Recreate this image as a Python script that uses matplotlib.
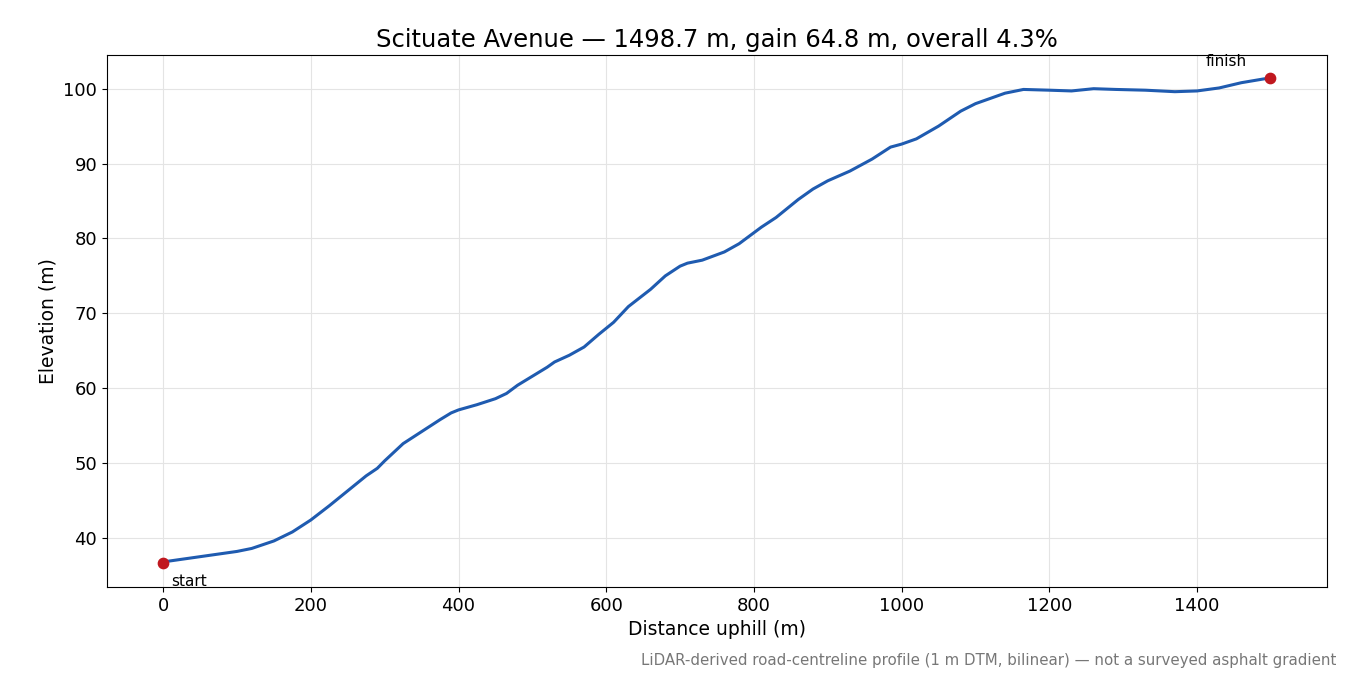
import matplotlib
matplotlib.use("Agg")
import matplotlib.pyplot as plt

dist = [0, 50, 100, 120, 150, 175, 200, 225, 250, 275, 290, 300, 325, 350, 375, 390, 400, 425, 450, 465,
        480, 500, 520, 530, 550, 570, 590, 610, 630, 660, 680, 700, 710, 730, 760, 780, 810, 830, 860, 880,
        900, 930, 960, 985, 1000, 1020, 1050, 1080, 1100, 1140, 1165, 1200, 1230, 1260, 1290, 1330, 1370,
        1400, 1430, 1460, 1490, 1498.7]
elev = [36.8, 37.5, 38.2, 38.6, 39.6, 40.8, 42.4, 44.3, 46.3, 48.3, 49.3, 50.3, 52.6, 54.2, 55.8, 56.7, 57.1,
        57.8, 58.6, 59.3, 60.4, 61.6, 62.8, 63.5, 64.4, 65.5, 67.2, 68.8, 70.9, 73.2, 75.0, 76.3, 76.7, 77.1,
        78.2, 79.3, 81.5, 82.8, 85.2, 86.6, 87.7, 89.0, 90.6, 92.2, 92.6, 93.3, 95.0, 97.0, 98.0, 99.4, 99.9,
        99.8, 99.7, 100.0, 99.9, 99.8, 99.6, 99.7, 100.1, 100.8, 101.3, 101.4]
start_pt = (0, 36.6)
finish_pt = (1498.7, 101.4)

fig = plt.figure(figsize=(13.5, 6.75), dpi=100)
ax = fig.add_axes([107/1350, 1-587/675, 1220/1350, 532/675])
ax.plot(dist, elev, color="#1f5bb0", lw=2.2)
ax.scatter([start_pt[0], finish_pt[0]], [start_pt[1], finish_pt[1]], color="#c0181f", s=55, zorder=3)
ax.annotate("start", start_pt, xytext=(6, -16), textcoords="offset points", fontsize=11)
ax.annotate("finish", finish_pt, xytext=(-46, 9), textcoords="offset points", fontsize=11)
ax.set_xlim(-76, 1576)
ax.set_ylim(33.45, 104.5)
ax.grid(True, color="#e4e4e4", lw=0.8)
ax.set_xlabel("Distance uphill (m)", fontsize=13.5)
ax.set_ylabel("Elevation (m)", fontsize=13.5)
ax.set_title("Scituate Avenue — 1498.7 m, gain 64.8 m, overall 4.3%", fontsize=17.5)
ax.tick_params(labelsize=13)
fig.text(1336/1350, 1-660/675, "LiDAR-derived road-centreline profile (1 m DTM, bilinear) — not a surveyed asphalt gradient",
         ha="right", va="center", fontsize=10.8, color="#777777")
fig.savefig("out.png", dpi=100)
